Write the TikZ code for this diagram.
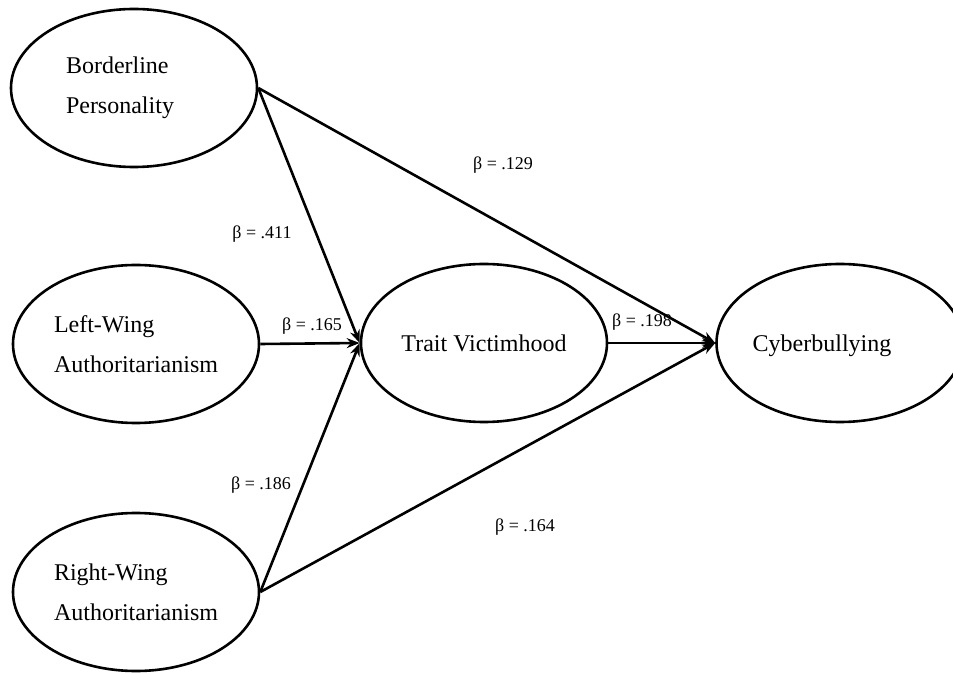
\documentclass[tikz,border=0pt]{standalone}
\usepackage{fontspec}
\setmainfont{Liberation Serif}
\usetikzlibrary{shapes.geometric, positioning, arrows.meta}

\begin{document}
\begin{tikzpicture}[
        x=0.5pt, y=-0.5pt,
        latent/.style={draw, ellipse, line width=1.3pt, minimum width=123pt, minimum height=79pt, inner sep=0pt, align=left, font=\fontsize{12}{20}\selectfont},
        coef/.style={inner sep=0pt, font=\fontsize{9}{11}\selectfont},
        arr/.style={-{Stealth[length=6.5pt, width=5pt]}, line width=1.3pt}
    ]
    \clip (0,0) rectangle (953,673);

    \node[latent] (bp) at (134,88) {Borderline\\Personality\hspace*{14pt}};
    \node[latent] (lwa) at (136,344) {Left-Wing\\Authoritarianism};
    \node[latent] (rwa) at (136,592) {Right-Wing\\Authoritarianism};
    \node[latent] (tv) at (484,343) {Trait Victimhood};
    \node[latent, text depth=0pt] (cb) at (840,343) {Cyberbullying\hspace*{18pt}};

    \node[coef] (c129) at (503,165) {β = .129};
    \node[coef] (c411) at (262,234) {β = .411};
    \node[coef] (c165) at (312,326) {β = .165};
    \node[coef] (c198) at (642,322) {β = .198};
    \node[coef] (c186) at (261,485) {β = .186};
    \node[coef] (c164) at (525,527) {β = .164};

    \draw[arr] (bp.east) -- (tv.west);
    \draw[arr] (bp.east) -- (cb.west);
    \draw[arr] (lwa.east) -- (tv.west);
    \draw[arr] (rwa.east) -- (tv.west);
    \draw[arr] (rwa.east) -- (cb.west);
    \draw[arr] (tv.east) -- (cb.west);

\end{tikzpicture}
\end{document}
